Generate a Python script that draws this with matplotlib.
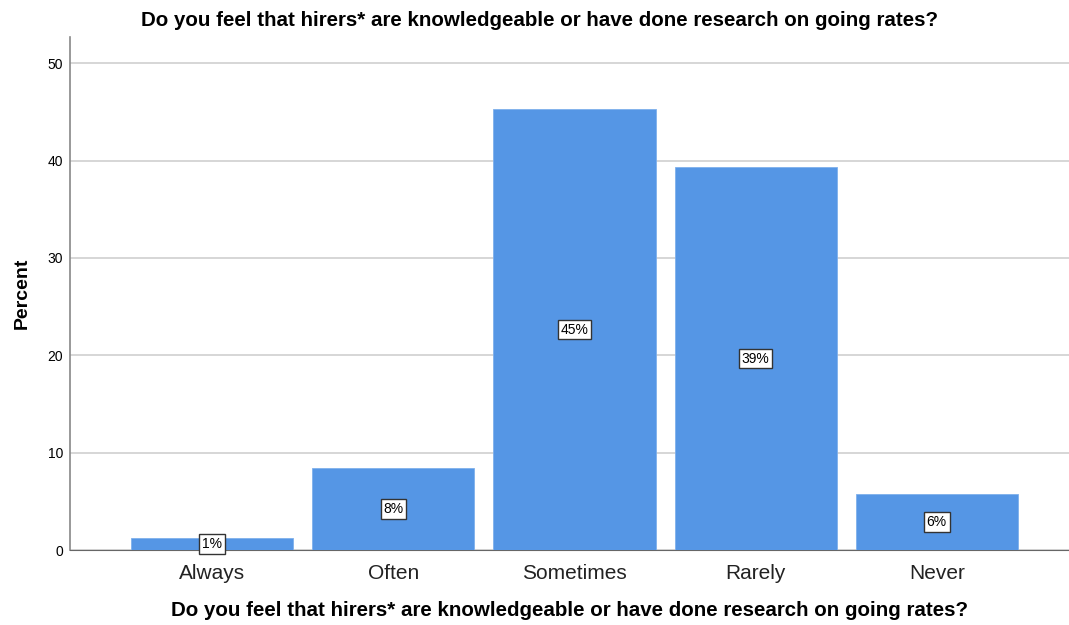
import numpy as np
import matplotlib.pyplot as plt

plt.rcParams['font.family'] = ['Liberation Sans', 'DejaVu Sans']

# data
categories = ['Always', 'Often', 'Sometimes', 'Rarely', 'Never']
percent = [1.2, 8.4, 45.3, 39.3, 5.8]
labels = ['1%', '8%', '45%', '39%', '6%']
question = 'Do you feel that hirers* are knowledgeable or have done research on going rates?'

fig = plt.figure(figsize=(10.69, 6.25), dpi=100)
ax = fig.add_axes([0.0655, 0.12, 0.9345, 0.8208])

x = np.arange(len(categories))
ax.bar(x, percent, width=0.895, color='#5596e5', edgecolor='#7fb0ec', linewidth=0.6, zorder=3)

for i in range(len(x)):
    ax.text(x[i], percent[i] / 2, labels[i], ha='center', va='center', fontsize=10, zorder=4,
            bbox=dict(boxstyle='square,pad=0.2', facecolor='white', edgecolor='#333333', linewidth=1))

ax.set_xlim(-0.785, 4.73)
ax.set_ylim(0, 52.7)
ax.set_yticks([0, 10, 20, 30, 40, 50])
ax.set_xticks(x)
ax.set_xticklabels(categories, fontsize=15, color='#222222')
ax.tick_params(axis='y', labelsize=10, length=0, pad=5)
ax.tick_params(axis='x', length=0, pad=10)
ax.grid(axis='y', color='#d0d0d0', linewidth=1.2, zorder=0)

for s in ['top', 'right']:
    ax.spines[s].set_visible(False)
ax.spines['left'].set_color('#888888')
ax.spines['bottom'].set_color('#666666')
ax.spines['left'].set_linewidth(1.2)

ax.set_ylabel('Percent', fontsize=14, fontweight='bold', labelpad=12)
ax.set_xlabel(question, fontsize=14.8, fontweight='bold', labelpad=13)
fig.text(0.5045, 0.967, question, ha='center', va='center', fontsize=14.8, fontweight='bold')

plt.savefig('out.png', dpi=100)
